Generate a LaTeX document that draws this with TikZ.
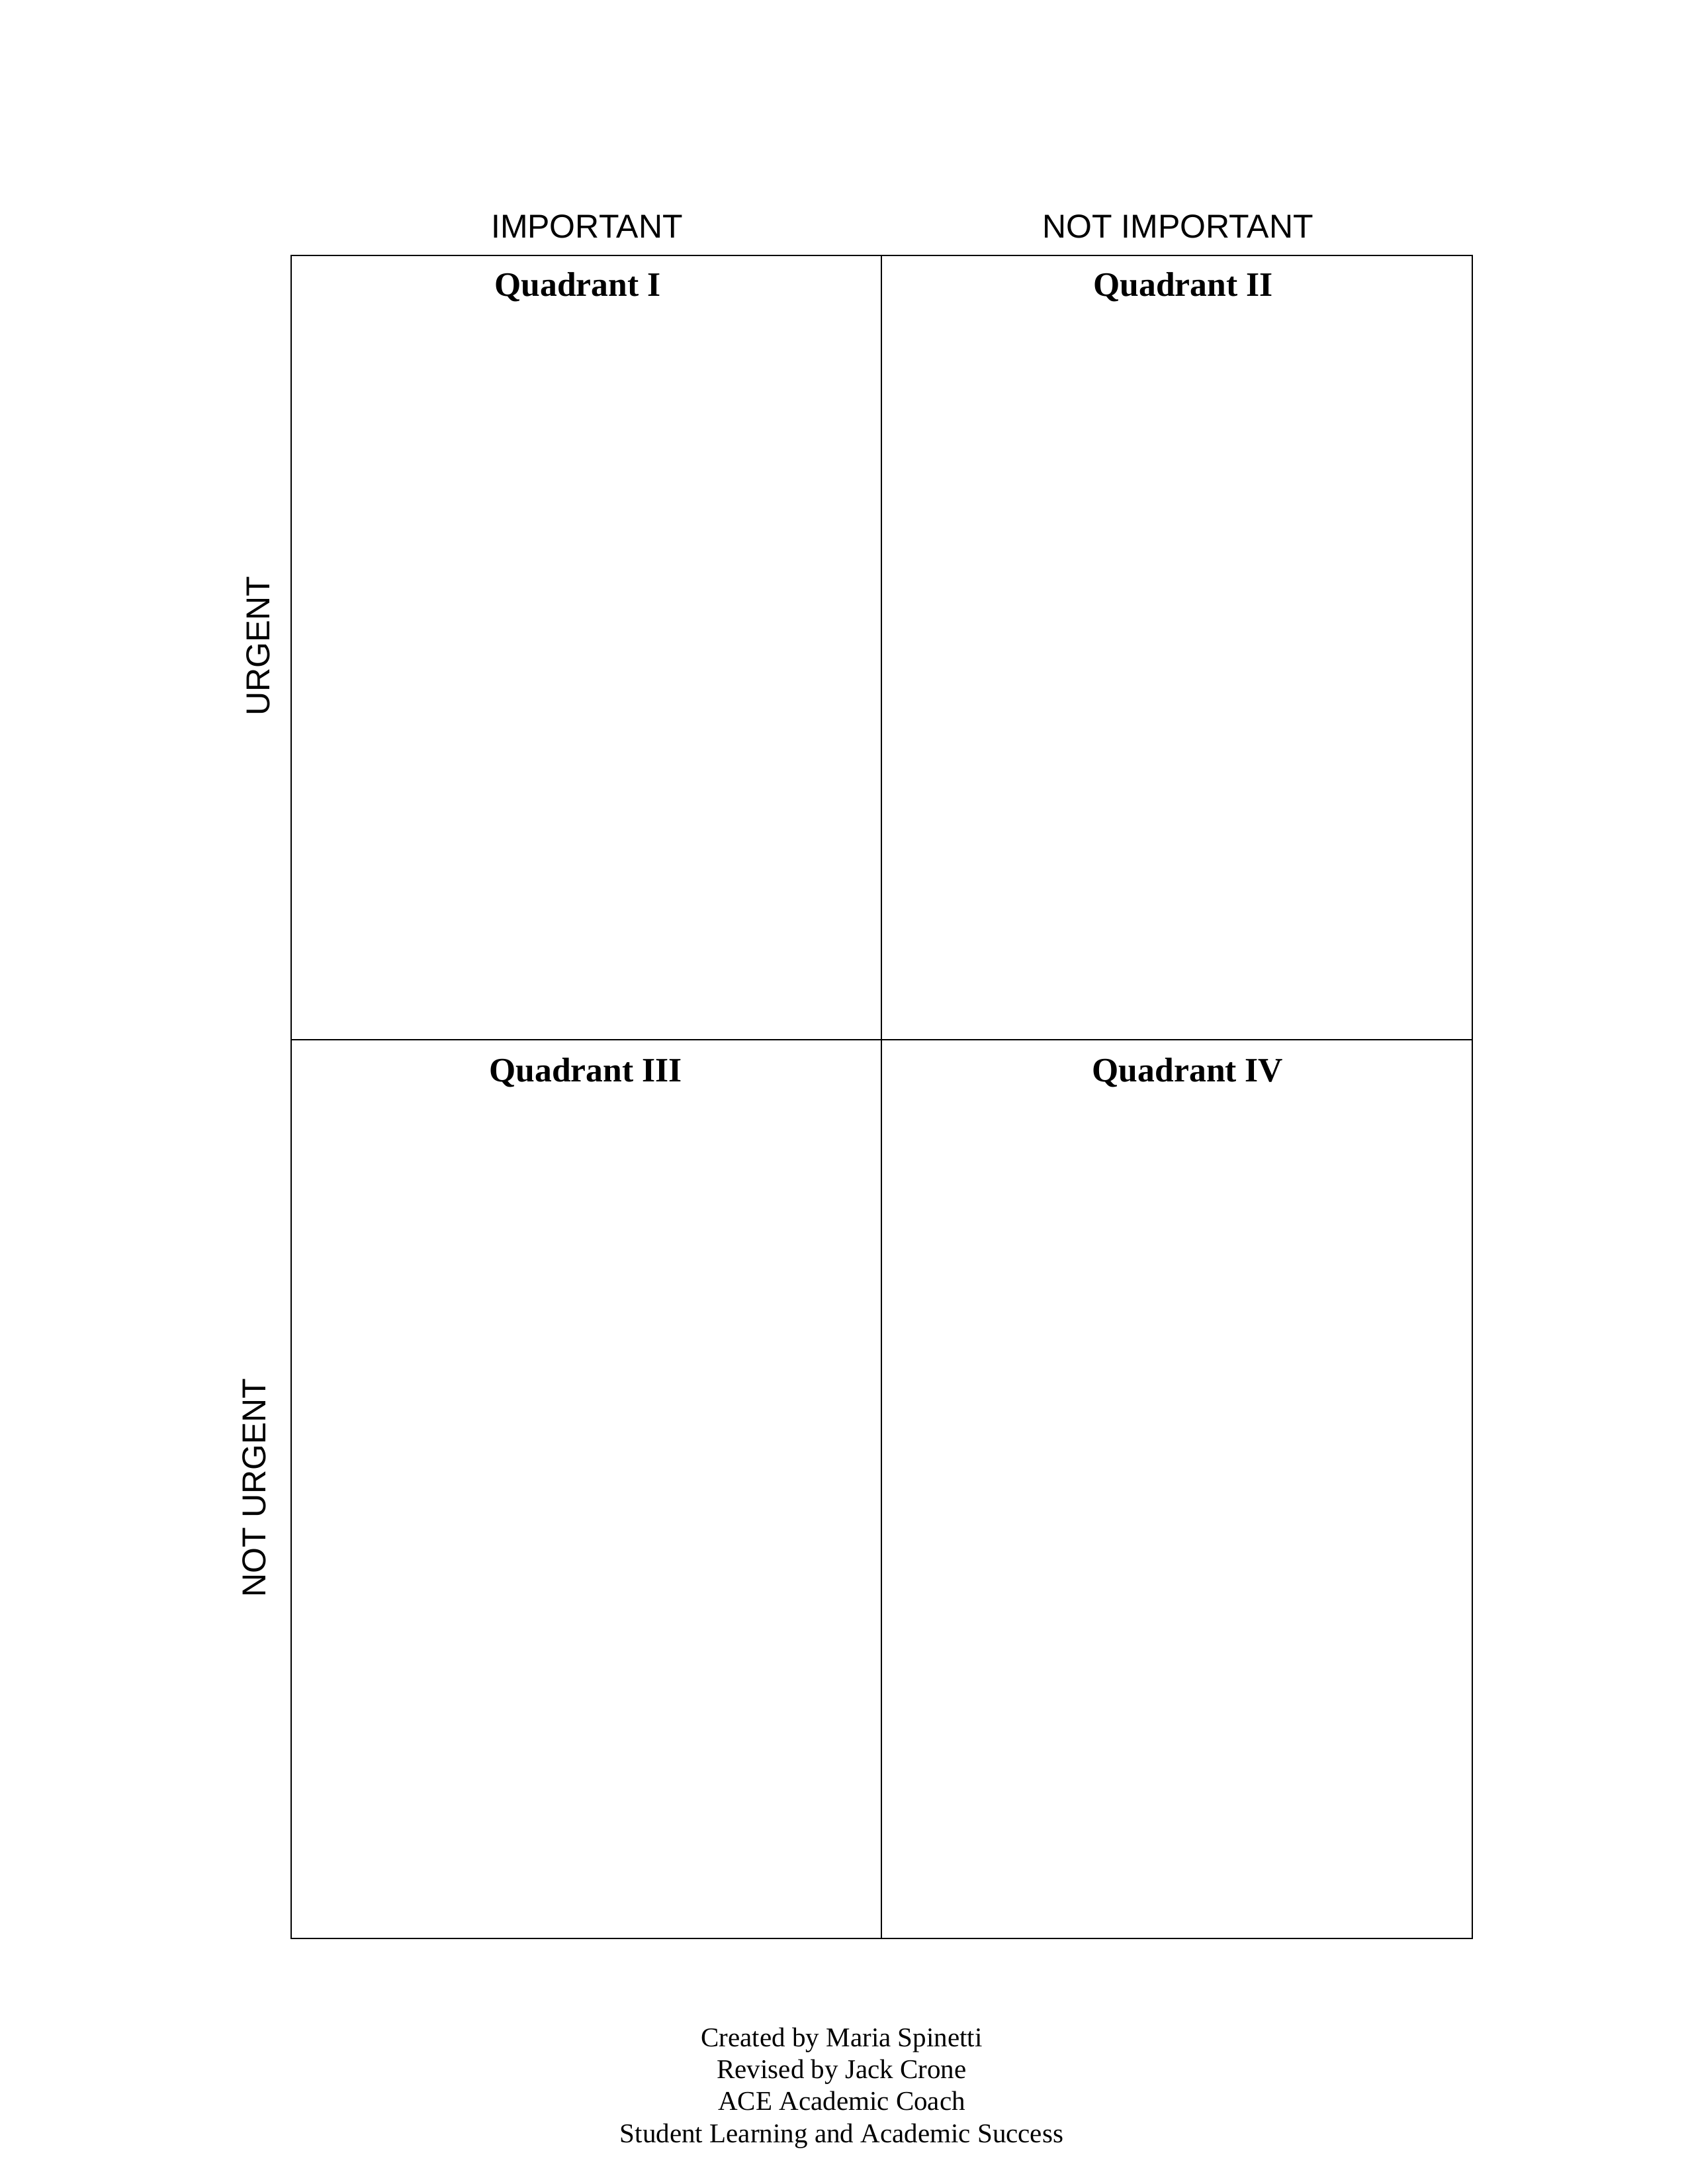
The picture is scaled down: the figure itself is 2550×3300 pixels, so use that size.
\documentclass[tikz,border=0pt]{standalone}
\usepackage{fontspec}
\setmainfont{Liberation Serif}
\setsansfont{Liberation Sans}
\begin{document}
\begin{tikzpicture}[x=0.24pt,y=-0.24pt,
  axislabel/.style={font=\sffamily\fontsize{12}{14}\selectfont, inner sep=0pt, anchor=base},
  quadlabel/.style={font=\rmfamily\bfseries\fontsize{12.4}{14}\selectfont, inner sep=0pt, anchor=base},
  footline/.style={font=\rmfamily\fontsize{9.85}{11.6}\selectfont, inner sep=0pt, anchor=base},
  gridline/.style={draw=black, line width=0.5pt}]
\useasboundingbox (0,0) rectangle (2550,3300);
% grid
\coordinate (tl) at (440,386);
\coordinate (br) at (2225,2929);
\coordinate (tm) at (1332,386);
\coordinate (bm) at (1332,2929);
\coordinate (lm) at (440,1571);
\coordinate (rm) at (2225,1571);
\draw[gridline] (tl) rectangle (br);
\draw[gridline] (tm) -- (bm);
\draw[gridline] (lm) -- (rm);
% column headers
\node[axislabel] (imp) at (887,359) {IMPORTANT};
\node[axislabel] (notimp) at (1780,359) {NOT IMPORTANT};
% row headers
\node[axislabel, rotate=90] (urg) at (407,976) {URGENT};
\node[axislabel, rotate=90] (noturg) at (401,2248) {NOT URGENT};
% quadrant titles
\node[quadlabel] (q1) at (873,447) {Quadrant I};
\node[quadlabel] (q2) at (1788,447) {Quadrant II};
\node[quadlabel] (q3) at (885,1634) {Quadrant III};
\node[quadlabel] (q4) at (1795,1634) {Quadrant IV};
% footer
\node[footline] (f1) at (1272,3092) {Created by Maria Spinetti};
\node[footline] (f2) at (1272,3140) {Revised by Jack Crone};
\node[footline] (f3) at (1272,3188) {ACE Academic Coach};
\node[footline] (f4) at (1272,3237) {Student Learning and Academic Success};
\end{tikzpicture}
\end{document}
